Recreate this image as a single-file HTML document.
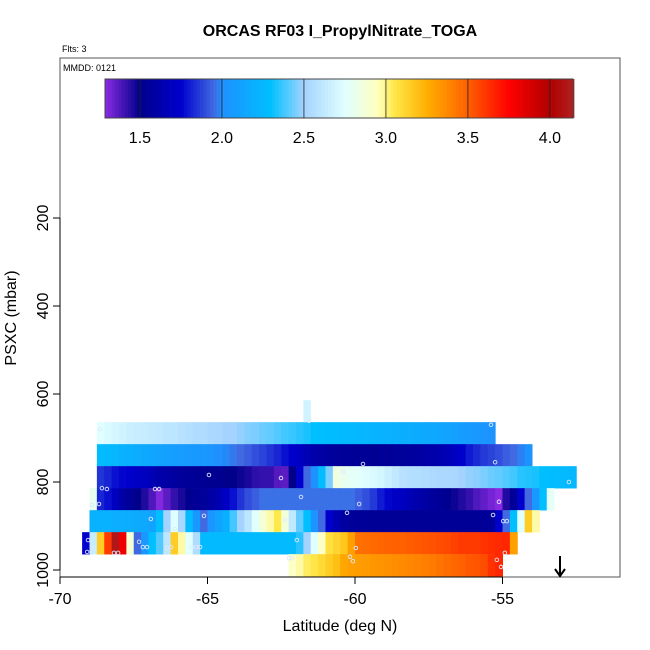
<!DOCTYPE html>
<html><head><meta charset="utf-8"><style>
html,body{margin:0;padding:0;background:#fff}
svg{display:block;font-family:"Liberation Sans",sans-serif}
</style></head><body>
<svg id="chart" width="650" height="650" viewBox="0 0 650 650" xmlns="http://www.w3.org/2000/svg">
<text x="340" y="36" text-anchor="middle" font-size="16" font-weight="bold">ORCAS RF03 I_PropylNitrate_TOGA</text>
<text x="62" y="52" font-size="9">Flts: 3</text>
<g id="cells"></g>
<g id="points"></g>
<rect x="60" y="58" width="560" height="519" fill="none" stroke="#555" stroke-width="1"/>
<text x="63" y="71" font-size="9">MMDD: 0121</text>
<g id="cbar"></g>
<g id="axes"></g>
<g stroke="#000" stroke-width="2" fill="none">
<line x1="560" y1="556" x2="560" y2="576"/><polyline points="555,569 560,576 565,569"/></g>
<text x="340" y="631" text-anchor="middle" font-size="16">Latitude (deg N)</text>
<text transform="translate(16,318) rotate(-90)" text-anchor="middle" font-size="16">PSXC (mbar)</text>
</svg>
<script>
const rowTops=[664,714,764,814,864,914,964];
const rowStarts=[-68.75,-68.75,-68.75,-69.0,-69.0,-69.25,-62.25];
const row1=[2.75,2.72,2.7,2.68,2.66,2.65,2.64,2.63,2.62,2.6,2.6,2.58,2.57,2.55,2.55,2.53,2.52,2.5,2.5,2.48,2.46,2.45,2.43,2.42,2.4,2.38,2.37,2.35,2.33,2.3,2.3,2.29,2.28,2.27,2.26,2.25,2.24,2.23,2.22,2.21,2.2,2.19,2.18,2.17,2.16,2.15,2.14,2.12,2.1,2.09,2.07,2.05,2.03,2.02];
const row2=[2.28,2.26,2.24,2.22,2.2,2.18,2.16,2.14,2.12,2.1,2.09,2.08,2.07,2.06,2.05,2.03,2.0,1.99,1.97,1.95,1.93,1.9,1.88,1.85,1.82,1.78,1.75,1.7,1.66,1.62,1.6,1.58,1.56,1.55,1.55,1.54,1.54,1.53,1.55,1.55,1.56,1.56,1.57,1.58,1.6,1.62,1.64,1.66,1.7,1.75,1.8,1.83,1.86,1.88,1.9,1.93,1.95,1.98,2.02];
const row3=[1.85,1.82,1.78,1.76,1.75,1.72,1.7,1.66,1.62,1.6,1.58,1.56,1.55,1.54,1.53,1.52,1.52,1.5,1.5,1.48,1.46,1.43,1.42,1.42,1.37,1.36,1.5,1.75,1.95,2.02,2.28,2.45,2.85,2.8,2.78,2.76,2.74,2.72,2.7,2.66,2.62,2.58,2.57,2.56,2.55,2.54,2.53,2.53,2.52,2.5,2.48,2.47,2.45,2.43,2.42,2.4,2.38,2.35,2.34,2.33,2.3,2.29,2.28,2.27,2.25];
const row4=[2.8,1.82,1.78,1.7,1.6,1.55,1.5,1.45,1.38,1.3,1.36,1.42,1.46,1.52,1.55,1.56,1.6,1.65,1.72,1.78,1.85,1.9,1.93,1.96,1.96,1.96,1.96,1.96,1.96,1.96,1.96,1.96,1.96,1.96,1.96,1.96,1.93,1.9,1.86,1.8,1.76,1.72,1.7,1.66,1.63,1.6,1.57,1.55,1.52,1.48,1.45,1.42,1.38,1.35,1.32,1.29,1.45,1.55,1.75,1.95,2.05,2.3,2.78];
const row5=[2.22,2.22,2.22,2.2,2.2,2.18,2.17,2.15,2.12,2.3,2.5,2.75,2.52,2.28,2.05,1.95,2.03,2.12,2.2,2.38,2.5,2.6,2.75,2.88,2.97,3.05,2.87,2.62,2.42,2.3,2.03,1.95,1.75,1.65,1.58,1.56,1.55,1.55,1.54,1.54,1.54,1.54,1.54,1.54,1.54,1.54,1.54,1.54,1.54,1.54,1.54,1.54,1.55,1.55,1.56,1.75,1.95,2.3,2.75,3.15,2.97];
const row6=[1.75,2.65,3.15,3.6,4.1,3.8,2.88,1.95,2.05,2.3,2.4,2.6,3.15,2.97,2.75,2.55,2.27,2.27,2.27,2.27,2.27,2.27,2.27,2.27,2.27,2.27,2.27,2.27,2.27,2.35,2.5,2.75,2.93,3.08,3.12,3.17,3.3,3.45,3.46,3.47,3.48,3.49,3.5,3.5,3.51,3.52,3.53,3.54,3.55,3.56,3.58,3.6,3.6,3.6,3.62,3.63,3.64,3.65,3.3];
const row7=[2.93,2.97,3.03,3.06,3.1,3.15,3.2,3.28,3.3,3.31,3.32,3.33,3.34,3.35,3.36,3.37,3.38,3.39,3.4,3.42,3.44,3.46,3.48,3.5,3.52,3.53,3.55,3.62,3.65];
const extraLon=[-61.75], extraTop=[614], extraVal=[2.68];
const ptLon=[-68.64,-64.95,-62.51,-68.58,-68.41,-66.78,-66.64,-68.68,-68.92,-61.83,-66.92,-66.10,-65.12,-62.37,-69.05,-68.85,-67.32,-67.19,-67.05,-66.37,-66.24,-65.53,-65.39,-65.25,-68.17,-68.03,-69.08,-61.97,-62.24,-62.14,-61.56,-55.39,-59.73,-55.25,-60.41,-52.75,-59.86,-55.12,-60.27,-55.32,-54.98,-54.85,-59.97,-54.92,-60.17,-60.07,-55.19,-55.05];
const ptP=[680,784,791,814,816,816,816,850,852,834,884,907,877,886,932,950,936,948,948,950,948,948,948,948,961,961,959,932,973,973,661,670,759,755,777,800,850,845,870,875,889,889,950,961,970,980,977,993];
const xTicks=[-70,-65,-60,-55];
const yTicks=[200,400,600,800,1000];
const cbTicks=[1.5,2.0,2.5,3.0,3.5,4.0];
const cbLabels=["1.5","2.0","2.5","3.0","3.5","4.0"];

const NS="http://www.w3.org/2000/svg";
const xS=l=>60+(l+70)*29.5;
const yS=p=>218+(p-200)*0.44;
const cS=v=>105+(v-1.287)*164;
const stops=[[1.287,[138,43,226]],[1.5,[0,0,139]],[1.75,[0,0,205]],[1.95,[65,105,225]],[2.0,[30,144,255]],[2.3,[0,191,255]],[2.5,[164,211,255]],[2.75,[224,255,255]],[2.95,[255,255,192]],[3.05,[255,232,74]],[3.25,[255,176,0]],[3.5,[255,96,0]],[3.75,[255,0,0]],[4.0,[176,0,0]],[4.15,[178,34,34]]];
function col(v){
  if(v<=stops[0][0])return `rgb(${stops[0][1]})`;
  for(let i=1;i<stops.length;i++){
    if(v<=stops[i][0]){const a=stops[i-1],b=stops[i],t=(v-a[0])/(b[0]-a[0]);
      return `rgb(${a[1].map((c,k)=>Math.round(c+(b[1][k]-c)*t)).join(',')})`;}
  }
  return `rgb(${stops[stops.length-1][1]})`;
}
function mk(tag,attrs,parent){const e=document.createElementNS(NS,tag);for(const k in attrs)e.setAttribute(k,attrs[k]);parent.appendChild(e);return e;}
const cells=document.getElementById('cells');
const rows=[row1,row2,row3,row4,row5,row6,row7];
rows.forEach((r,ri)=>{
  r.forEach((v,i)=>{
    const l0=rowStarts[ri]+i*0.25;
    const x0=xS(l0),x1=xS(l0+0.25);
    const e=mk('rect',{x:x0,y:yS(rowTops[ri]),width:x1-x0+0.5,height:yS(rowTops[ri]+50)-yS(rowTops[ri])+0.3,fill:col(v)},cells);
    
    
  });
});
extraLon.forEach((l,i)=>{
  const e=mk('rect',{x:xS(l),y:yS(extraTop[i]),width:xS(l+0.25)-xS(l),height:yS(extraTop[i]+50)-yS(extraTop[i]),fill:col(extraVal[i])},cells);
  
  
});
const pts=document.getElementById('points');
ptLon.forEach((l,i)=>{
  const e=mk('circle',{cx:xS(l),cy:yS(ptP[i]),r:1.8,fill:'none',stroke:'#dde8ff','stroke-width':0.9},pts);
  
  
});
const cb=document.getElementById('cbar');
for(let v=1.287;v<4.14;v+=0.02){
  const e=mk('rect',{x:cS(v),y:79,width:3.6,height:39,fill:col(v+0.01)},cb);
  
  
}
mk('rect',{x:105,y:79,width:468,height:39,fill:'none',stroke:'#444','stroke-width':1},cb);
cbTicks.forEach((t,i)=>{
  const ln=mk('line',{x1:cS(t),x2:cS(t),y1:79,y2:118,stroke:'#222','stroke-width':0.8},cb);
  
  
  const tx=mk('text',{x:cS(t),y:143,'text-anchor':'middle','font-size':16},cb);
  tx.textContent=cbLabels[i];
  
  
});
const ax=document.getElementById('axes');
mk('line',{x1:xS(xTicks[0]),x2:xS(xTicks[xTicks.length-1]),y1:577,y2:577,stroke:'#000'},ax);
xTicks.forEach(t=>{
  mk('line',{x1:xS(t),x2:xS(t),y1:577,y2:584,stroke:'#000'},ax);
  const tx=mk('text',{x:xS(t),y:604,'text-anchor':'middle','font-size':16},ax);
  tx.textContent=t;
  
  
});
mk('line',{x1:60,x2:60,y1:yS(yTicks[0]),y2:yS(yTicks[yTicks.length-1]),stroke:'#000'},ax);
yTicks.forEach(t=>{
  mk('line',{x1:53,x2:60,y1:yS(t),y2:yS(t),stroke:'#000'},ax);
  const tx=mk('text',{transform:`translate(48,${yS(t)}) rotate(-90)`,'text-anchor':'middle','font-size':16},ax);
  tx.textContent=t;
  
  
});
</script>
</body></html>
